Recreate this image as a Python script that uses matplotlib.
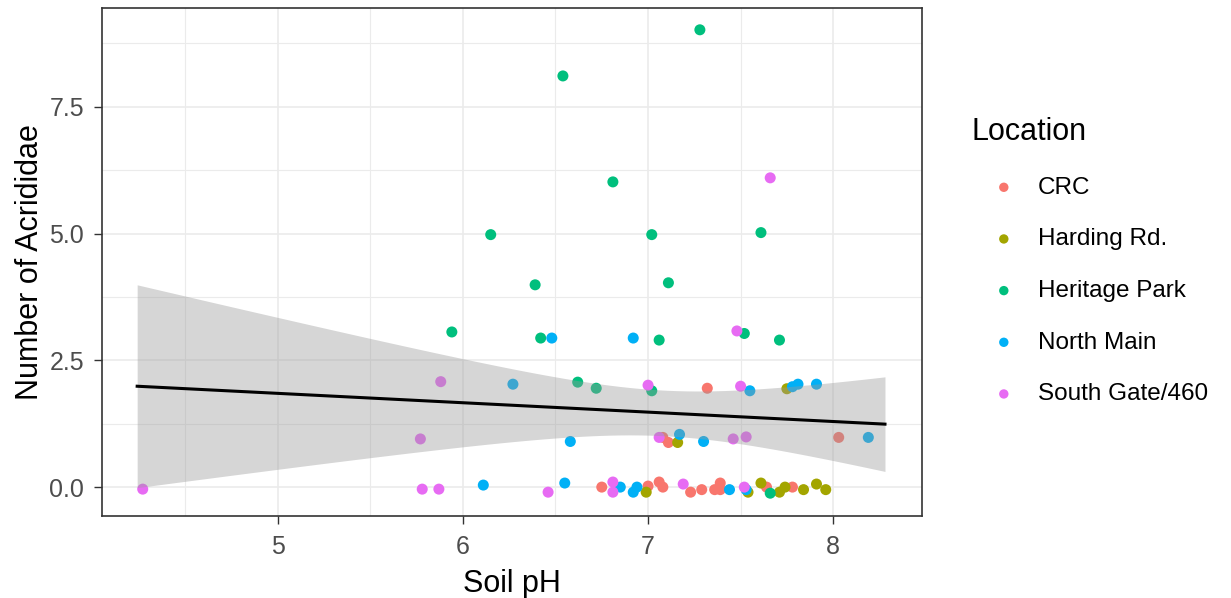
import numpy as np
import matplotlib
matplotlib.use('Agg')
import matplotlib.pyplot as plt
from matplotlib.ticker import MultipleLocator, FormatStrFormatter

plt.rcParams['font.family'] = ['Liberation Sans', 'DejaVu Sans']

# Soil pH / number of Acrididae per location (jittered values)
crc_ph = [7.32, 7.08, 7.11, 8.03, 6.75, 7.00, 7.06, 7.08, 7.23, 7.29, 7.36, 7.39, 7.39, 7.64, 7.78]
crc_n = [1.95, 0.98, 0.88, 0.98, 0.00, 0.02, 0.10, 0.00, -0.10, -0.05, -0.05, 0.08, -0.05, 0.00, 0.00]

harding_ph = [7.75, 7.16, 6.99, 7.54, 7.61, 7.71, 7.74, 7.84, 7.91, 7.96]
harding_n = [1.94, 0.88, -0.10, -0.10, 0.08, -0.10, 0.00, -0.05, 0.06, -0.05]

heritage_ph = [7.28, 6.54, 6.81, 6.15, 7.02, 7.61, 6.39, 7.11, 5.94, 6.42, 7.06, 7.52, 7.71,
               6.62, 6.72, 7.02, 7.66]
heritage_n = [9.02, 8.11, 6.02, 4.98, 4.98, 5.02, 3.99, 4.03, 3.06, 2.94, 2.90, 3.03, 2.90,
              2.07, 1.95, 1.90, -0.12]

north_ph = [6.48, 6.92, 6.27, 7.55, 7.78, 7.81, 7.91, 6.58, 7.17, 7.30, 8.19, 6.11, 6.55,
            6.85, 6.92, 6.94, 7.44, 7.53]
north_n = [2.94, 2.94, 2.03, 1.90, 1.98, 2.03, 2.03, 0.90, 1.04, 0.90, 0.98, 0.04, 0.08,
           0.00, -0.10, 0.00, -0.05, -0.05]

south_ph = [7.66, 7.48, 7.00, 7.50, 5.88, 5.77, 7.06, 7.46, 7.53, 4.27, 5.78, 5.87, 6.46,
            6.81, 6.81, 7.19, 7.52]
south_n = [6.10, 3.08, 2.01, 1.99, 2.08, 0.95, 0.98, 0.95, 0.99, -0.04, -0.04, -0.04, -0.10,
           -0.10, 0.10, 0.06, 0.00]

locations = ['CRC', 'Harding Rd.', 'Heritage Park', 'North Main', 'South Gate/460']
colors = ['#F8766D', '#A3A500', '#00BF7D', '#00B0F6', '#E76BF3']
groups = [(crc_ph, crc_n), (harding_ph, harding_n), (heritage_ph, heritage_n),
          (north_ph, north_n), (south_ph, south_n)]

# pH range covered by the smoother (un-jittered data range)
fit_range = [4.24, 8.28]

fig = plt.figure(figsize=(12.31, 5.98), dpi=100)
ax = fig.add_axes([102 / 1231, 1 - 516 / 598, 820 / 1231, 508 / 598])

for (xs, ys), lab, col in zip(groups, locations, colors):
    ax.scatter(xs, ys, s=63, color=col, label=lab, edgecolors='none', zorder=3)

# linear fit with 95% confidence band
all_x = np.concatenate([np.array(g[0]) for g in groups])
all_y = np.concatenate([np.array(g[1]) for g in groups])
n = len(all_x)
b1, b0 = np.polyfit(all_x, all_y, 1)
resid = all_y - (b0 + b1 * all_x)
s = np.sqrt(np.sum(resid ** 2) / (n - 2))
sxx = np.sum((all_x - all_x.mean()) ** 2)
xx = np.linspace(fit_range[0], fit_range[1], 80)
fit = b0 + b1 * xx
se = s * np.sqrt(1 / n + (xx - all_x.mean()) ** 2 / sxx)
t = 1.99
ax.fill_between(xx, fit - t * se, fit + t * se, color='#999999', alpha=0.4, lw=0, zorder=4)
ax.plot(xx, fit, color='black', lw=2.2, zorder=5)

ax.set_xlim(4.05, 8.48)
ax.set_ylim(-0.57, 9.45)
ax.xaxis.set_major_locator(MultipleLocator(1))
ax.xaxis.set_minor_locator(MultipleLocator(0.5))
ax.yaxis.set_major_locator(MultipleLocator(2.5))
ax.yaxis.set_minor_locator(MultipleLocator(1.25))
ax.yaxis.set_major_formatter(FormatStrFormatter('%.1f'))
ax.grid(which='major', color='#EBEBEB', lw=1.2, zorder=0)
ax.grid(which='minor', color='#EBEBEB', lw=0.8, zorder=0)
ax.set_axisbelow(True)
ax.tick_params(which='minor', length=0)
ax.tick_params(which='major', length=6, width=1, color='#333333', labelcolor='#4D4D4D',
               labelsize=18)
ax.tick_params(axis='y', pad=7)
ax.tick_params(axis='x', pad=8)
for sp in ax.spines.values():
    sp.set_color('#333333')
    sp.set_linewidth(1.2)

ax.set_xlabel('Soil pH', fontsize=22, labelpad=7)
ax.set_ylabel('Number of Acrididae', fontsize=22, labelpad=3)

leg = ax.legend(title='Location', loc='upper left', bbox_to_anchor=(971 / 1231, 1 - 117 / 598),
                bbox_transform=fig.transFigure, frameon=False, fontsize=17.5,
                title_fontsize=22, alignment='left', handlelength=2.7, handletextpad=0.05,
                labelspacing=1.22, markerscale=0.85, borderpad=0, borderaxespad=0)

fig.savefig('out.png', dpi=100)
